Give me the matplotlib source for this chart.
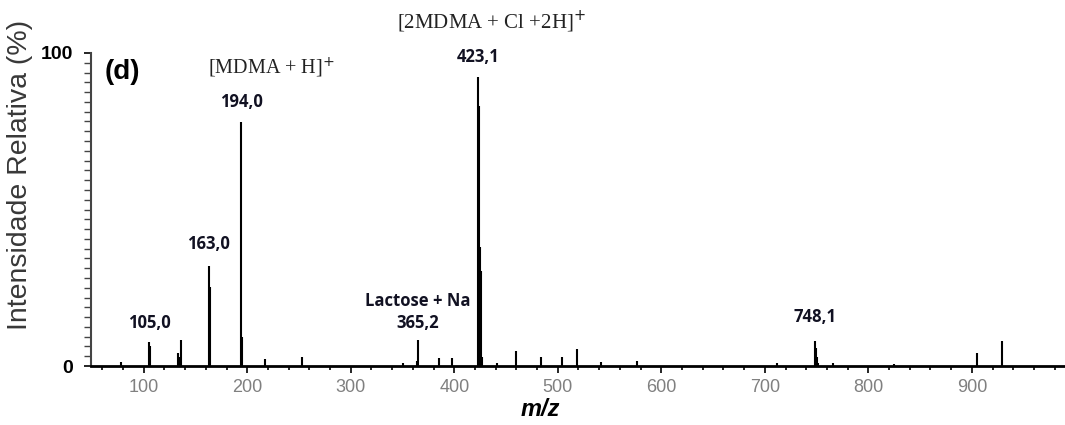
import matplotlib
matplotlib.use('Agg')
import matplotlib.pyplot as plt
from matplotlib.ticker import MultipleLocator

# peak list (m/z, relative intensity %)
mz = [78, 105, 106, 133, 134, 136, 163, 164, 194, 195, 217, 253,
      350, 364, 365, 385, 398, 423, 424, 425, 426, 427, 441,
      460, 484, 504, 519, 542, 577, 712, 748, 749, 750, 751,
      766, 825, 905, 929]
intensity = [1.3, 7.7, 6.5, 4.2, 3.0, 8.3, 32.0, 25.2, 78.0, 9.3, 2.2, 3.0,
             1.0, 1.5, 8.3, 2.5, 2.5, 92.3, 83.0, 38.0, 30.5, 3.0, 1.0,
             4.8, 3.0, 3.0, 5.4, 1.3, 1.6, 1.0, 8.0, 5.8, 3.0, 1.0,
             1.0, 0.5, 4.2, 8.0]

peak_labels = ['105,0', '163,0', '194,0', '423,1', '748,1', '365,2']
peak_label_mz = [105, 163, 194, 423, 748, 365]
peak_label_y = [11.0, 36.0, 81.5, 95.8, 12.8, 11.0]

x_ticks = [100, 200, 300, 400, 500, 600, 700, 800, 900]

fig = plt.figure(figsize=(10.65, 4.25), dpi=100)
ax = fig.add_axes([0.0854, 0.1388, 0.9146, 0.7365])

ax.vlines(mz, 0, intensity, color='black', lw=1.5)

ax.set_xlim(49, 990)
ax.set_ylim(0, 100)

ax.spines['top'].set_visible(False)
ax.spines['right'].set_visible(False)
ax.spines['bottom'].set_linewidth(2.0)
ax.spines['left'].set_linewidth(1.5)
ax.spines['left'].set_color('#444444')

ax.set_xticks(x_ticks)
ax.xaxis.set_minor_locator(MultipleLocator(20))
ax.tick_params(axis='x', which='major', length=5, width=1.2, labelsize=13,
               labelcolor='#808080', pad=4)
ax.tick_params(axis='x', which='minor', length=3, width=1.2)
for lab in ax.get_xticklabels():
    lab.set_family('Liberation Sans')

ax.set_yticks([0, 100])
ax.set_yticklabels(['0', '100'], fontweight='bold', fontsize=14,
                   family='Liberation Sans')
ax.yaxis.set_minor_locator(MultipleLocator(100 / 32))
ax.tick_params(axis='y', which='major', length=5, width=1.2, pad=8)
ax.tick_params(axis='y', which='minor', length=5, width=1.0, color='#444444')

ax.set_ylabel('Intensidade Relativa (%)', fontsize=20.5, color='#383838',
              family='Liberation Sans')
ax.yaxis.set_label_coords(-0.060, 0.61)
ax.set_xlabel('m/z', fontsize=17, fontweight='bold', style='italic',
              family='Liberation Sans')
ax.xaxis.set_label_coords(0.461, -0.14)
ax.xaxis.label.set_va('center')

for txt, xm, ym in zip(peak_labels, peak_label_mz, peak_label_y):
    ax.text(xm, ym, txt, ha='center', va='bottom', fontsize=12,
            fontweight='bold', family='Open Sans', color='#111122')

ax.text(365, 18.0, 'Lactose + Na', ha='center', va='bottom', fontsize=12,
        fontweight='bold', family='Open Sans', color='#111122')

ax.text(223.5, 95.2, '[MDMA + H]$^{+}$', ha='center', va='center',
        fontsize=14.5, family='Liberation Serif', color='#222222')
ax.text(436, 109.9, '[2MDMA + Cl +2H]$^{+}$', ha='center', va='center',
        fontsize=15, family='Liberation Serif', color='#222222', clip_on=False)

ax.text(0.014, 0.94, '(d)', transform=ax.transAxes, fontsize=20,
        fontweight='bold', family='Liberation Sans', va='center')

fig.savefig('out.png', dpi=100)
